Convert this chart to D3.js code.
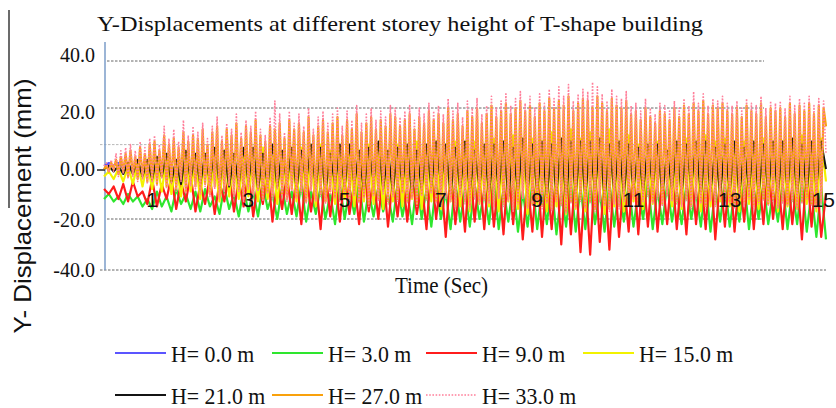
<!DOCTYPE html>
<html>
<head>
<meta charset="utf-8">
<script src="https://cdn.jsdelivr.net/npm/d3@7/dist/d3.min.js"></script>
<style>
  html, body { margin: 0; padding: 0; background: #fff; }
  svg { display: block; }
</style>
</head>
<body>
<svg id="chart" width="836" height="408"></svg>
<script>
// ---- data -------------------------------------------------------------
const chartTitle = "Y-Displacements at different storey height  of  T-shape building";
const xTitle = "Time (Sec)";
const yTitle = "Y- Displacement (mm)";

const yTickValues = [40, 20, 0, -20, -40];
const yTickLabels = ["40.0", "20.0", "0.00", "-20.0", "-40.0"];
const gridValues = [40, 20, 8, -20, -40];
const xTickValues = [1, 3, 5, 7, 9, 11, 13, 15];

const seriesNames = ["H= 0.0 m", "H= 3.0 m", "H= 9.0 m", "H= 15.0 m", "H= 21.0 m", "H= 27.0 m", "H= 33.0 m"];
// seconds between samples for each record
const seriesSteps = [0.1, 0.1, 0.1, 0.1, 0.1, 0.05, 0.05];

// displacement samples (mm), one row per second
const h0 = [
  1, 2, 1, 2, 0, 2, -1, 2, -1, 2,
  -1, 2, -1, 2, -2, 2, -1, 2, -2, 2,
  -2, 2, -2, 1, -2, 2, -2, 1, -1, 2,
  -2, 1, -2, 2, -2, 2, -1, 1, -2, 2,
  -1, 2, -2, 1, -2, 2, -1, 2, -2, 1,
  -2, 2, -1, 2, -2, 1, -2, 2, -1, 2,
  -2, 1, -1, 2, -2, 2, -1, 2, -2, 1,
  -1, 2, -2, 2, -1, 1, -2, 2, -2, 2,
  -2, 2, -1, 2, -2, 1, -2, 2, -1, 2,
  -2, 2, -2, 1, -1, 2, -2, 2, -2, 1,
  -2, 2, -1, 2, -2, 1, -2, 2, -1, 2,
  -2, 1, -1, 2, -2, 2, -1, 1, -2, 2,
  -1, 2, -2, 1, -2, 2, -1, 2, -2, 1,
  -2, 2, -1, 2, -1, 1, -2, 2, -1, 2,
  -2, 1, -2, 2, -1, 2, -2, 1, -2, 2,
  0
];
const h3 = [
  -12, -10, -13, -11, -14, -10, -13, -11, -15, -12,
  -16, -9, -15, -11, -17, -8, -14, -10, -16, -9,
  -17, -8, -15, -11, -18, -7, -16, -10, -19, -8,
  -17, -9, -19, -6, -16, -10, -20, -7, -18, -9,
  -19, -6, -21, -9, -18, -7, -20, -10, -22, -6,
  -20, -8, -18, -5, -21, -9, -19, -7, -17, -10,
  -21, -6, -19, -9, -22, -5, -20, -8, -23, -6,
  -20, -9, -24, -5, -21, -8, -23, -6, -20, -9,
  -22, -5, -24, -8, -21, -6, -25, -9, -23, -5,
  -24, -8, -22, -6, -26, -9, -23, -5, -25, -7,
  -24, -6, -22, -9, -25, -5, -23, -8, -21, -6,
  -23, -9, -20, -5, -24, -8, -22, -6, -21, -9,
  -22, -6, -20, -9, -23, -5, -25, -8, -21, -6,
  -23, -9, -21, -5, -24, -8, -20, -6, -22, -9,
  -21, -6, -24, -8, -22, -5, -25, -9, -27, -7,
  -28
];
const h9 = [
  -8, -10, -7, -12, -6, -13, -5, -11, -9, -14,
  -4, -15, -6, -12, -3, -16, -5, -13, -2, -17,
  -6, -14, -3, -18, -5, -13, -2, -17, -4, -15,
  -1, -19, -5, -14, 0, -21, -4, -16, -2, -18,
  -3, -22, -1, -17, -4, -24, 0, -19, -3, -21,
  -2, -18, -5, -22, 1, -17, -3, -20, -1, -23,
  -4, -19, 0, -21, -2, -18, -5, -24, 1, -20,
  -3, -27, 0, -22, -4, -25, 2, -21, -1, -24,
  0, -23, -3, -26, 2, -22, -1, -28, -4, -25,
  1, -27, -2, -24, 0, -30, 2, -26, -1, -33,
  -3, -34, 1, -29, -2, -32, 0, -27, -4, -25,
  2, -26, -1, -23, 1, -25, -3, -22, 0, -24,
  -2, -26, 1, -22, -1, -24, 2, -28, -3, -23,
  0, -25, -2, -21, 1, -24, -1, -22, 2, -20,
  -2, -24, 0, -22, -3, -28, 1, -23, -1, -27,
  -10
];
const h15 = [
  -3, -1, -4, 0, -5, 1, -6, 2, -7, 2,
  -8, 3, -9, 4, -10, 2, -11, 4, -9, 3,
  -12, 5, -10, 3, -13, 6, -11, 4, -12, 6,
  -11, 5, -13, 7, -12, 4, -14, 6, -10, 5,
  -13, 7, -12, 5, -15, 8, -13, 6, -14, 4,
  -12, 7, -15, 6, -13, 8, -14, 6, -16, 5,
  -13, 8, -15, 6, -12, 9, -16, 7, -13, 9,
  -16, 7, -13, 9, -15, 8, -17, 9, -14, 7,
  -15, 10, -17, 8, -13, 11, -16, 9, -18, 10,
  -14, 9, -17, 12, -15, 10, -18, 13, -16, 10,
  -17, 12, -14, 10, -18, 13, -15, 9, -17, 11,
  -13, 8, -16, 7, -14, 9, -12, 6, -15, 8,
  -16, 10, -14, 8, -17, 11, -15, 9, -13, 10,
  -15, 8, -17, 9, -14, 7, -16, 10, -14, 9,
  -17, 9, -15, 7, -16, 11, -14, 8, -17, 10,
  -5
];
const h21 = [
  0, 1, -1, 1, -2, 2, -2, 3, -3, 3,
  -4, 4, -3, 5, -5, 3, -6, 6, -4, 5,
  -6, 5, -5, 7, -6, 6, -7, 5, -6, 7,
  -5, 7, -8, 5, -6, 8, -7, 6, -5, 7,
  -8, 6, -5, 8, -7, 7, -9, 5, -6, 8,
  -7, 8, -6, 6, -9, 7, -5, 9, -8, 6,
  -9, 7, -6, 8, -10, 6, -8, 8, -7, 9,
  -6, 8, -10, 7, -8, 9, -9, 6, -7, 8,
  -10, 8, -8, 9, -11, 7, -9, 10, -9, 8,
  -9, 9, -11, 8, -10, 10, -12, 9, -10, 9,
  -11, 9, -9, 10, -12, 8, -9, 9, -10, 8,
  -8, 7, -9, 8, -7, 8, -10, 6, -8, 9,
  -10, 8, -7, 9, -10, 9, -9, 7, -10, 8,
  -9, 9, -10, 7, -8, 9, -10, 8, -9, 9,
  -10, 9, -8, 10, -10, 8, -9, 9, -7, 9,
  0
];
const h27 = [
  0, 1, -1, 2, 0, 3, -2, 4, -1, 5, -3, 6, -2, 4, -4, 7, -3, 5, -5, 8,
  -4, 9, -6, 6, -3, 11, -7, 8, -5, 10, -8, 7, -4, 12, -9, 9, -6, 11, -7, 10,
  -9, 13, -6, 8, -10, 12, -7, 14, -11, 9, -8, 13, -6, 11, -10, 15, -8, 10, -12, 14,
  -7, 12, -10, 16, -8, 11, -12, 9, -9, 14, -11, 13, -7, 15, -10, 10, -12, 16, -8, 13,
  -11, 15, -9, 12, -13, 17, -8, 11, -12, 14, -10, 16, -13, 12, -9, 15, -11, 17, -12, 11,
  -9, 16, -12, 13, -10, 18, -13, 12, -11, 15, -14, 17, -10, 13, -12, 16, -9, 14, -13, 18,
  -10, 17, -12, 14, -9, 16, -13, 18, -11, 13, -14, 17, -10, 15, -12, 19, -9, 16, -13, 18,
  -14, 15, -11, 20, -12, 16, -15, 18, -10, 14, -13, 19, -15, 17, -11, 20, -13, 15, -12, 18,
  -13, 21, -15, 17, -11, 19, -14, 22, -12, 18, -16, 20, -13, 23, -11, 19, -15, 21, -14, 17,
  -12, 22, -15, 19, -13, 24, -16, 20, -12, 23, -14, 21, -17, 25, -13, 19, -15, 22, -12, 24,
  -15, 23, -13, 20, -16, 25, -12, 22, -14, 19, -16, 24, -13, 21, -15, 20, -12, 23, -14, 18,
  -11, 19, -14, 16, -12, 20, -10, 17, -13, 15, -11, 19, -14, 18, -10, 16, -12, 20, -13, 17,
  -14, 21, -12, 18, -15, 22, -11, 19, -13, 23, -15, 18, -12, 21, -14, 20, -11, 22, -13, 19,
  -13, 18, -15, 20, -12, 17, -14, 21, -11, 19, -15, 18, -13, 22, -12, 17, -14, 20, -12, 19,
  -15, 20, -13, 17, -14, 22, -12, 18, -15, 21, -13, 19, -11, 22, -14, 18, -15, 21, -13, 20,
  14
];
const h33 = [
  1, 2, -1, 3, -1, 5, -3, 6, -2, 7, -4, 8, -3, 6, -5, 9, -4, 7, -6, 10,
  -5, 11, -7, 8, -4, 14, -8, 10, -6, 13, -9, 9, -5, 16, -10, 11, -7, 14, -8, 12,
  -10, 15, -7, 10, -11, 14, -8, 17, -12, 11, -9, 15, -7, 13, -11, 18, -9, 12, -13, 16,
  -8, 14, -11, 19, -9, 13, -13, 11, -10, 17, -12, 23, -8, 18, -11, 12, -13, 19, -9, 15,
  -12, 18, -10, 14, -14, 20, -9, 13, -13, 17, -11, 19, -14, 15, -10, 18, -12, 20, -13, 14,
  -10, 19, -13, 16, -11, 21, -14, 15, -12, 18, -15, 20, -11, 16, -13, 19, -10, 17, -14, 21,
  -11, 20, -13, 17, -10, 19, -14, 21, -12, 16, -15, 20, -11, 18, -13, 22, -10, 19, -14, 21,
  -15, 18, -12, 24, -13, 19, -16, 22, -11, 17, -14, 23, -16, 20, -12, 24, -14, 18, -13, 21,
  -14, 25, -16, 20, -12, 23, -15, 26, -13, 21, -17, 24, -14, 27, -12, 22, -16, 25, -15, 20,
  -13, 26, -16, 22, -14, 28, -17, 24, -13, 29, -15, 25, -18, 30, -14, 23, -16, 26, -13, 28,
  -16, 27, -14, 31, -17, 29, -13, 26, -15, 23, -17, 28, -14, 25, -16, 24, -13, 27, -15, 21,
  -12, 22, -15, 19, -13, 24, -11, 20, -14, 18, -12, 22, -15, 21, -11, 19, -13, 23, -14, 20,
  -15, 24, -13, 21, -16, 27, -12, 22, -14, 26, -16, 21, -13, 24, -15, 23, -12, 25, -14, 22,
  -14, 21, -16, 23, -13, 20, -15, 24, -12, 22, -16, 21, -14, 25, -13, 20, -15, 23, -13, 22,
  -16, 23, -14, 20, -15, 25, -13, 21, -16, 24, -14, 22, -12, 25, -15, 21, -16, 24, -14, 23,
  5
];

const seriesValues = [h0, h3, h9, h15, h21, h27, h33];

// ---- styles -------------------------------------------------------------
const seriesColors = ["#5b55ff", "#2ee62e", "#ff1c1c", "#f2f200", "#141414", "#f9a10c", "#ff7f9a"];
const seriesDash = [null, null, null, null, null, null, "1.6,1.6"];
const seriesWidth = [2, 2.2, 2.2, 2.2, 2, 2.2, 1.6];

const serif = "'Liberation Serif', 'Times New Roman', serif";
const sans = "'Liberation Sans', Arial, sans-serif";

const svg = d3.select("#chart");

// scales
const x = d3.scaleLinear().domain([0, 15]).range([104, 826]);
const y = d3.scaleLinear().domain([-40, -20, 0, 20, 40]).range([270, 219, 169, 108, 61]);
const yLabelPos = d3.scaleLinear().domain([-40, -20, 0, 20, 40]).range([270, 220, 169, 112, 55]);

// left frame stroke
svg.append("line")
  .attr("x1", 9).attr("x2", 9).attr("y1", 10).attr("y2", 208)
  .attr("stroke", "#3a3a3a").attr("stroke-width", 1.5);

// title
svg.append("text")
  .attr("x", 97).attr("y", 31)
  .attr("font-family", serif).attr("font-size", 22).attr("fill", "#111")
  .attr("textLength", 606).attr("lengthAdjust", "spacingAndGlyphs")
  .text(chartTitle);

// y-axis title
svg.append("text")
  .attr("transform", "translate(31,206) rotate(-90)")
  .attr("text-anchor", "middle")
  .attr("font-family", sans).attr("font-size", 24).attr("fill", "#111")
  .attr("textLength", 255).attr("lengthAdjust", "spacingAndGlyphs")
  .text(yTitle);

// horizontal grid lines
svg.append("g").selectAll("line")
  .data(gridValues)
  .join("line")
  .attr("x1", d => (d === -40 || d === 8) ? 100 : 107)
  .attr("x2", d => d === -40 ? 826 : 764)
  .attr("y1", d => y(d)).attr("y2", d => y(d))
  .attr("stroke", d => d === 8 ? "#b8b8b8" : "#666")
  .attr("stroke-width", 1)
  .attr("stroke-dasharray", "2.5,1.5");

// y axis line
svg.append("line")
  .attr("x1", 105).attr("x2", 105).attr("y1", 42).attr("y2", 270)
  .attr("stroke", "#7b9cc9").attr("stroke-width", 1.5);

// zero tick
svg.append("line")
  .attr("x1", 97).attr("x2", 105).attr("y1", y(0) + 1).attr("y2", y(0) + 1)
  .attr("stroke", "#222").attr("stroke-width", 1.5);

// y tick labels
svg.append("g").selectAll("text")
  .data(yTickValues)
  .join("text")
  .attr("x", 95)
  .attr("y", d => yLabelPos(d))
  .attr("dy", "0.35em")
  .attr("text-anchor", "end")
  .attr("font-family", serif).attr("font-size", 20).attr("fill", "#111")
  .text((d, i) => yTickLabels[i]);

// series lines
svg.append("g").selectAll("path")
  .data(seriesValues)
  .join("path")
  .attr("d", (vals, s) => d3.line()
      .x((d, i) => x(i * seriesSteps[s]))
      .y(d => y(d))(vals))
  .attr("fill", "none")
  .attr("stroke", (d, i) => seriesColors[i])
  .attr("stroke-width", (d, i) => seriesWidth[i])
  .attr("stroke-dasharray", (d, i) => seriesDash[i])
  .attr("stroke-linejoin", "round");

// x tick labels (drawn inside the plot, over the traces)
svg.append("g").selectAll("text")
  .data(xTickValues)
  .join("text")
  .attr("x", d => x(d))
  .attr("y", 207)
  .attr("text-anchor", "middle")
  .attr("font-family", sans).attr("font-size", 21).attr("fill", "#111")
  .text(d => d)
  .each(function () {
    const w = this.getComputedTextLength();
    const cx = +this.getAttribute("x");
    if (cx + w / 2 > 835) this.setAttribute("x", 835 - w / 2);
  });

// x-axis title
svg.append("text")
  .attr("x", 395).attr("y", 293)
  .attr("font-family", serif).attr("font-size", 23).attr("fill", "#111")
  .attr("textLength", 93).attr("lengthAdjust", "spacingAndGlyphs")
  .text(xTitle);

// legend
const legendCols = [115, 272, 426, 583];
const legendRows = [353, 395];
const legend = svg.append("g");
seriesNames.forEach((name, i) => {
  const col = i < 4 ? i : i - 4;
  const row = i < 4 ? 0 : 1;
  const lx = legendCols[col];
  const ly = legendRows[row];
  legend.append("line")
    .attr("x1", lx).attr("x2", lx + 51)
    .attr("y1", ly).attr("y2", ly)
    .attr("stroke", seriesColors[i])
    .attr("stroke-width", i === 6 ? 1.4 : 1.8)
    .attr("stroke-dasharray", seriesDash[i]);
  const t = legend.append("text")
    .attr("x", lx + 56).attr("y", ly + 9)
    .attr("font-family", serif).attr("font-size", 23).attr("fill", "#111")
    .text(name);
  const w = t.node().getComputedTextLength();
  t.attr("textLength", w * 0.95).attr("lengthAdjust", "spacingAndGlyphs");
});
</script>
</body>
</html>
